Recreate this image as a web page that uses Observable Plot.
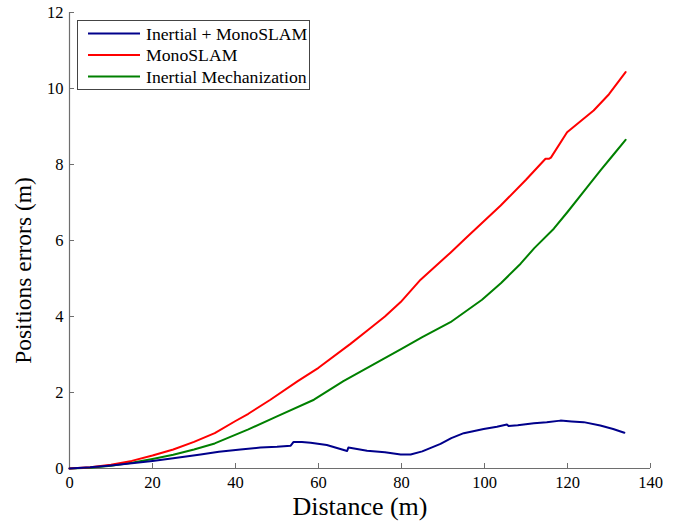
<!DOCTYPE html>
<html>
<head>
<meta charset="utf-8">
<script src="https://cdn.jsdelivr.net/npm/d3@7"></script>
<script src="https://cdn.jsdelivr.net/npm/@observablehq/plot@0.6"></script>
<style>
  html, body { margin: 0; padding: 0; background: white; }
  #chart svg, #chart svg text { font-family: "Liberation Serif", "Times New Roman", serif !important; }
</style>
</head>
<body>
<div id="chart"></div>
<script>
// ---- data ----
const seriesNames = ["Inertial + MonoSLAM", "MonoSLAM", "Inertial Mechanization"];
const seriesColors = ["#00008b", "#ff0000", "#008000"];

const blueX = [0, 5, 10, 15, 20, 25, 31.6, 36, 41.2, 46, 50, 53.3, 54, 56, 58.1, 62, 66.9, 67.2, 71.7, 76, 79.8, 82.2, 85, 89.4, 92, 95, 99.8, 103, 105.4, 105.8, 108, 111.9, 115, 118.3, 121, 123.9, 127.9, 131, 133.7];
const blueY = [0, 0.03, 0.08, 0.14, 0.2, 0.27, 0.37, 0.44, 0.5, 0.55, 0.57, 0.6, 0.7, 0.7, 0.68, 0.62, 0.46, 0.55, 0.47, 0.43, 0.37, 0.37, 0.45, 0.65, 0.8, 0.93, 1.04, 1.1, 1.16, 1.12, 1.14, 1.19, 1.22, 1.26, 1.24, 1.22, 1.13, 1.04, 0.94];

const redX = [0, 5, 10, 15, 20, 25, 30, 35, 40, 43.1, 48.4, 55, 60, 67.7, 72, 76, 79.8, 84.6, 91.8, 95.4, 103.9, 110, 114.7, 115.5, 116, 119.9, 126.3, 130, 134];
const redY = [0, 0.03, 0.1, 0.2, 0.34, 0.5, 0.7, 0.93, 1.25, 1.44, 1.81, 2.3, 2.65, 3.28, 3.65, 4.0, 4.38, 4.97, 5.68, 6.05, 6.92, 7.6, 8.15, 8.15, 8.18, 8.85, 9.42, 9.85, 10.43];

const greenX = [0, 5, 10, 15, 20, 25, 30, 35, 43.1, 50, 58.9, 66, 74.9, 80, 85, 91.8, 99.4, 104, 108.7, 112, 116.7, 120, 124.7, 128, 131, 134];
const greenY = [0, 0.02, 0.07, 0.15, 0.25, 0.36, 0.5, 0.66, 1.03, 1.37, 1.81, 2.3, 2.84, 3.15, 3.46, 3.85, 4.44, 4.88, 5.39, 5.8, 6.31, 6.75, 7.4, 7.85, 8.25, 8.65];

const xTicks = [0, 20, 40, 60, 80, 100, 120, 140];
const yTicks = [0, 2, 4, 6, 8, 10, 12];
const xLabel = "Distance (m)";
const yLabel = "Positions errors (m)";

// ---- build tables ----
const toRows = (xs, ys, name) => xs.map((x, i) => ({x, y: ys[i], series: name}));
const rows = [
  ...toRows(greenX, greenY, seriesNames[2]),
  ...toRows(redX, redY, seriesNames[1]),
  ...toRows(blueX, blueY, seriesNames[0])
];

const font = "Liberation Serif";
const axisGray = "#6e6e6e";

const chart = Plot.plot({
  width: 679,
  height: 523,
  marginLeft: 69,
  marginRight: 29,
  marginTop: 12,
  marginBottom: 55,
  x: {domain: [0, 140]},
  y: {domain: [0, 12]},
  color: {domain: seriesNames, range: seriesColors},
  style: {fontFamily: font, fontSize: "16.5px", background: "white", color: "black"},
  marks: [
    Plot.ruleY([0], {stroke: axisGray, strokeWidth: 1.2}),
    Plot.ruleX([0], {stroke: axisGray, strokeWidth: 1.2}),
    Plot.axisX({ticks: xTicks, tickSize: -5, tickPadding: 13, stroke: axisGray, fill: "black", label: null, tickFormat: d => d, fontFamily: font, fontSize: 16.5}),
    Plot.axisY({ticks: yTicks, tickSize: -5, tickPadding: 11, stroke: axisGray, fill: "black", label: null, tickFormat: d => d, fontFamily: font, fontSize: 16.5}),
    Plot.line(rows, {x: "x", y: "y", z: "series", stroke: "series", strokeWidth: 2, curve: "linear"}),
    Plot.text([xLabel], {frameAnchor: "bottom", text: d => d, dy: 38, lineAnchor: "middle", textAnchor: "middle", fontSize: 26, fontFamily: font, fill: "black"}),
    Plot.text([yLabel], {frameAnchor: "left", text: d => d, rotate: -90, dx: -46, dy: 30, lineAnchor: "middle", textAnchor: "middle", fontSize: 23.5, fontFamily: font, fill: "black"})
  ]
});

// ---- legend (appended to the Plot svg) ----
const svg = d3.select(chart);
const lg = svg.append("g").attr("font-family", font).attr("font-size", 17.7).attr("text-anchor", "start");
lg.append("rect")
  .attr("x", 77.5).attr("y", 20.5).attr("width", 232).attr("height", 69)
  .attr("fill", "white").attr("stroke", "#444").attr("stroke-width", 1);
seriesNames.forEach((name, i) => {
  const cy = 33.5 + i * 21.5;
  lg.append("line").attr("x1", 88).attr("x2", 140).attr("y1", cy).attr("y2", cy)
    .attr("stroke", seriesColors[i]).attr("stroke-width", 2);
  lg.append("text").attr("x", 146).attr("y", cy).attr("dy", "0.35em")
    .attr("text-anchor", "start").attr("fill", "black").text(name);
});

document.getElementById("chart").appendChild(chart);
</script>
</body>
</html>
